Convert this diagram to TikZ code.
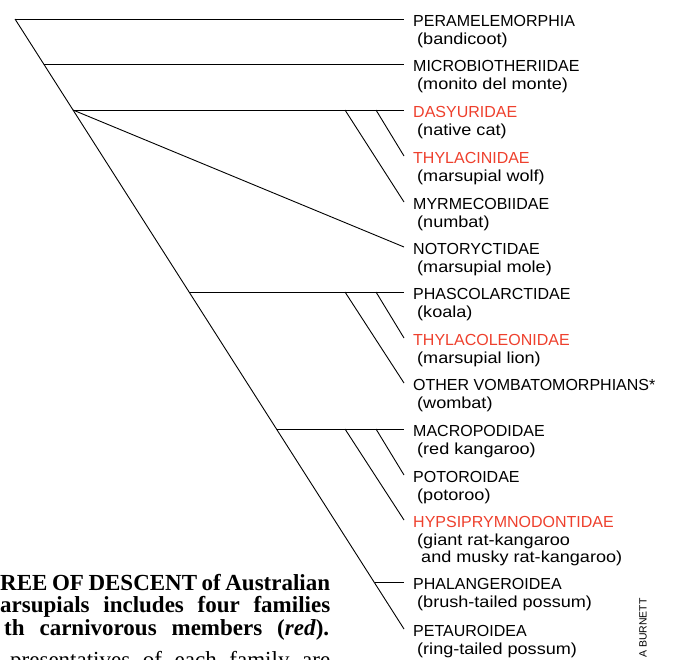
\documentclass[tikz,border=0pt]{standalone}
\usepackage{fontspec}
\usepackage{xcolor}
\newfontfamily\treefont{Liberation Sans}
\newfontfamily\vernacfont[FakeStretch=1.13]{Liberation Sans}
\newfontfamily\notefont{Liberation Serif}
\definecolor{carnred}{RGB}{238,64,45}
\newcommand\vernac[1]{\hspace*{4pt}{\vernacfont\color{black}#1}}

\begin{document}
\begin{tikzpicture}[x=1pt,y=-1pt,
  branch/.style={line width=0.9pt},
  taxon/.style={anchor=north west,inner sep=0pt,align=left,
    font=\treefont\fontsize{16}{17.5}\selectfont},
  carn/.style={taxon,text=carnred},
  note/.style={anchor=base west,inner sep=0pt,
    font=\notefont\bfseries\fontsize{23}{22}\selectfont}]
\useasboundingbox (0,0) rectangle (674,659);
\clip (0,0) rectangle (674,659);
% branch points on the main stem
\coordinate (b0) at (15,19);
\coordinate (b1) at (44,64);
\coordinate (b2) at (73,110);
\coordinate (b3) at (189,292);
\coordinate (b4) at (277,429);
\coordinate (b5) at (375,582);
% inner branch points
\coordinate (d1) at (345,110);
\coordinate (d2) at (376,110);
\coordinate (p1) at (345,292);
\coordinate (p2) at (376,292);
\coordinate (m1) at (345,429);
\coordinate (m2) at (376,429);
% tips
\coordinate (t1) at (404,19);
\coordinate (t2) at (404,64);
\coordinate (t3) at (404,110);
\coordinate (t4) at (404,156);
\coordinate (t5) at (404,202);
\coordinate (t6) at (404,247);
\coordinate (t7) at (404,292);
\coordinate (t8) at (404,338);
\coordinate (t9) at (404,383);
\coordinate (t10) at (404,429);
\coordinate (t11) at (404,475);
\coordinate (t12) at (404,520);
\coordinate (t13) at (404,582);
\coordinate (t14) at (404,629);

\draw[branch] (b0) -- (t14);
\draw[branch] (b0) -- (t1);
\draw[branch] (b1) -- (t2);
\draw[branch] (b2) -- (t3);
\draw[branch] (b2) -- (t6);
\draw[branch] (d1) -- (t5);
\draw[branch] (d2) -- (t4);
\draw[branch] (b3) -- (t7);
\draw[branch] (p1) -- (t9);
\draw[branch] (p2) -- (t8);
\draw[branch] (b4) -- (t10);
\draw[branch] (m1) -- (t12);
\draw[branch] (m2) -- (t11);
\draw[branch] (b5) -- (t13);

% labels
\node[taxon] (pera) at ([xshift=9pt,yshift=3.5pt]t1) {PERAMELEMORPHIA\\\vernac{(bandicoot)}};
\node[taxon] (micro) at ([xshift=9pt,yshift=3.5pt]t2) {MICROBIOTHERIIDAE\\\vernac{(monito del monte)}};
\node[carn] (dasy) at ([xshift=9pt,yshift=3.5pt]t3) {DASYURIDAE\\\vernac{(native cat)}};
\node[carn] (thyla) at ([xshift=9pt,yshift=3.5pt]t4) {THYLACINIDAE\\\vernac{(marsupial wolf)}};
\node[taxon] (myrm) at ([xshift=9pt,yshift=3.5pt]t5) {MYRMECOBIIDAE\\\vernac{(numbat)}};
\node[taxon] (noto) at ([xshift=9pt,yshift=3.5pt]t6) {NOTORYCTIDAE\\\vernac{(marsupial mole)}};
\node[taxon] (phasc) at ([xshift=9pt,yshift=3.5pt]t7) {PHASCOLARCTIDAE\\\vernac{(koala)}};
\node[carn] (thyleo) at ([xshift=9pt,yshift=3.5pt]t8) {THYLACOLEONIDAE\\\vernac{(marsupial lion)}};
\node[taxon] (vomb) at ([xshift=9pt,yshift=3.5pt]t9) {OTHER VOMBATOMORPHIANS*\\\vernac{(wombat)}};
\node[taxon] (macro) at ([xshift=9pt,yshift=3.5pt]t10) {MACROPODIDAE\\\vernac{(red kangaroo)}};
\node[taxon] (potor) at ([xshift=9pt,yshift=3.5pt]t11) {POTOROIDAE\\\vernac{(potoroo)}};
\node[carn] (hypsi) at ([xshift=9pt,yshift=3.5pt]t12) {HYPSIPRYMNODONTIDAE\\\vernac{(giant rat-kangaroo}\\\vernac{\hspace*{4pt}and musky rat-kangaroo)}};
\node[taxon] (phal) at ([xshift=9pt,yshift=3.5pt]t13) {PHALANGEROIDEA\\\vernac{(brush-tailed possum)}};
\node[taxon] (petau) at ([xshift=9pt,yshift=3.5pt]t14) {PETAUROIDEA\\\vernac{(ring-tailed possum)}};

% caption, cut at the left and bottom
\node[note] (cap1) at (0,590) {\makebox[330pt][s]{REE OF DESCENT of Australian}};
\node[note] (cap2) at (0,612.5) {\makebox[330pt][s]{arsupials includes four families}};
\node[note] (cap3) at (4,635) {\makebox[325pt][s]{th carnivorous members (\textit{red}).}};
\node[note,font=\notefont\fontsize{23}{22}\selectfont] (cap4) at (10,667) {\makebox[320pt][s]{presentatives of each family are}};

\node[rotate=90,inner sep=0pt,font=\treefont\fontsize{10.5}{12}\selectfont] (credit) at (643,628) {A BURNETT};
\end{tikzpicture}
\end{document}
